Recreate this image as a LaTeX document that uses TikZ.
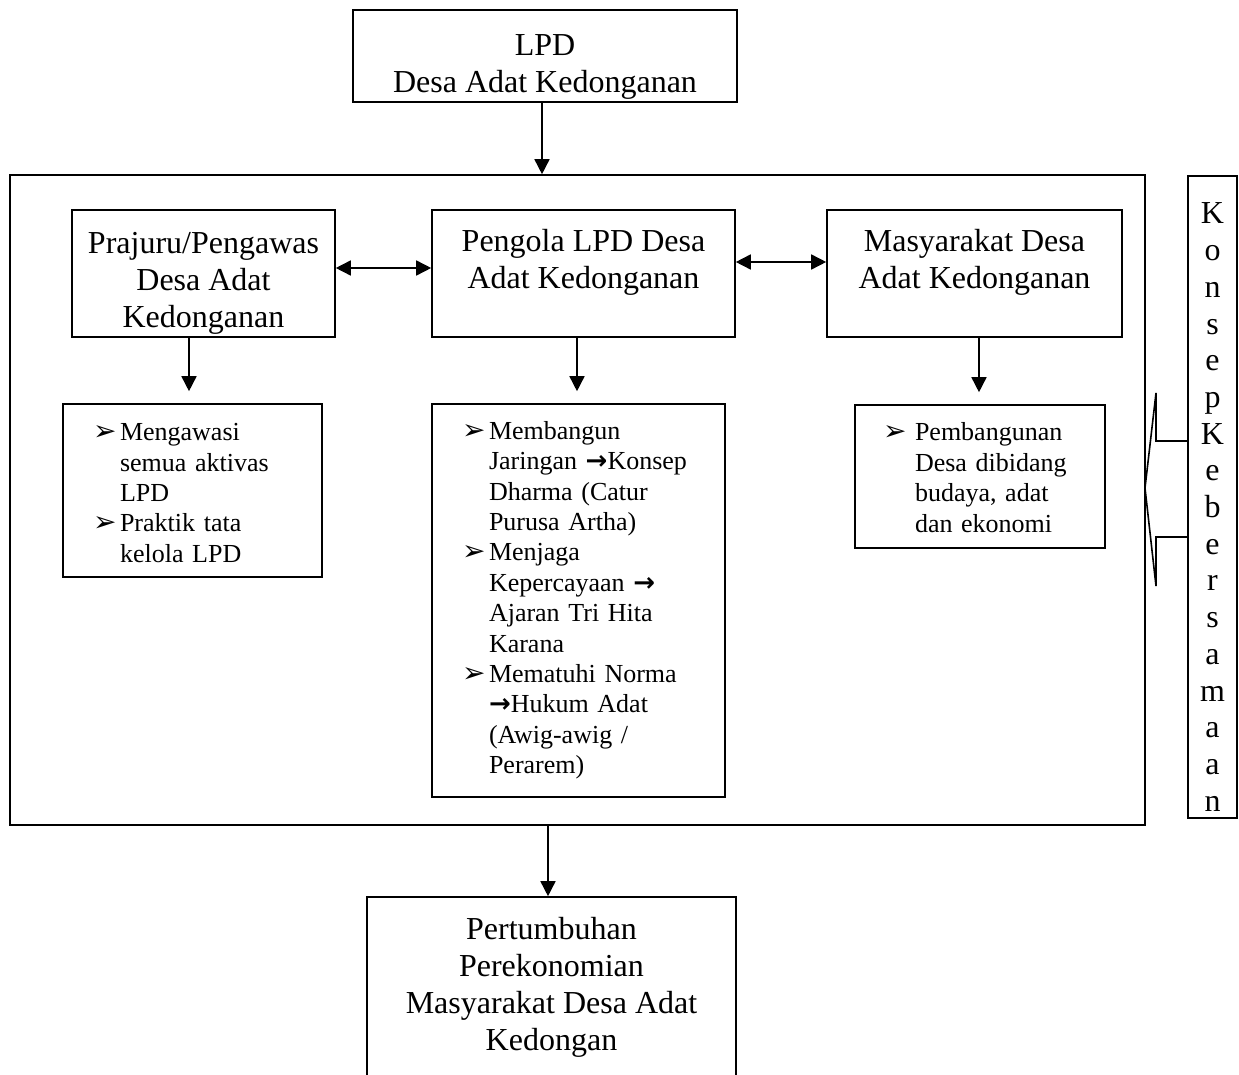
\documentclass[tikz,border=0pt]{standalone}
\usepackage{fontspec}
\setmainfont{Liberation Serif}
\newfontfamily\dejavu{DejaVu Sans}
\usetikzlibrary{arrows.meta}
\newcommand\blt{{\dejavu\fontsize{14}{14}\selectfont ➢}}
\newcommand\ra{{\dejavu\bfseries\fontsize{13}{13}\selectfont →}}
\newcommand\atas[1]{\rule{0pt}{#1}}
\tikzset{
	kotak/.style={draw,line width=.8pt,align=center,inner sep=0pt,font=\fontsize{16}{18.5}\selectfont},
	daftar/.style={draw,line width=.8pt,align=left,inner ysep=0pt,inner xsep=15pt,font=\fontsize{13}{15.2}\selectfont},
	panah/.style={line width=.8pt,-{Triangle[length=7.5pt,width=7.5pt]}},
	panahdua/.style={line width=.8pt,{Triangle[length=7.5pt,width=7.5pt]}-{Triangle[length=7.5pt,width=7.5pt]}}
}
\begin{document}
\begin{tikzpicture}[x=.5pt,y=-.5pt]
	\useasboundingbox[fill=white] (0,0) rectangle (1239,1075);
	\node[kotak,minimum width=192pt,minimum height=46pt] (lpd) at (545,56) {\atas{21.5pt}LPD\\Desa Adat Kedonganan};
	\node[draw,line width=.8pt,minimum width=567.5pt,minimum height=325pt] (outer) at (577.5,500) {};
	\node[kotak,minimum width=131.5pt,minimum height=63.5pt] (prajuru) at (203.5,273.5) {\atas{20pt}Prajuru/Pengawas\\Desa Adat\\Kedonganan};
	\node[kotak,minimum width=151.5pt,minimum height=63.5pt] (pengola) at (583.5,273.5) {\atas{15pt}Pengola LPD Desa\\Adat Kedonganan\\\mbox{}};
	\node[kotak,minimum width=147.5pt,minimum height=63.5pt] (masy) at (974.5,273.5) {\atas{15pt}Masyarakat Desa\\Adat Kedonganan\\\mbox{}};
	% daftar kegiatan
	\node[daftar,text width=99.5pt,minimum height=86.5pt] (tugas1) at (192.5,490.5) {\begin{tabular}{@{}p{13.5pt}@{}l@{}}
		\blt & \atas{15.6pt}Mengawasi\\ & semua aktivas\\ & LPD\\
		\blt & Praktik tata\\ & kelola LPD
	\end{tabular}};
	\node[daftar,text width=116.5pt,minimum height=196.5pt] (tugas2) at (578.5,600.5) {\begin{tabular}{@{}p{13.5pt}@{}l@{}}
		\blt & Membangun\\ & Jaringan \ra Konsep\\ & Dharma (Catur\\ & Purusa Artha)\\
		\blt & Menjaga\\ & Kepercayaan \ra\\ & Ajaran Tri Hita\\ & Karana\\
		\blt & Mematuhi Norma\\ & \ra Hukum Adat\\ & (Awig-awig /\\ & Perarem)
	\end{tabular}};
	\node[daftar,inner xsep=14pt,text width=97pt,minimum height=71.5pt] (tugas3) at (980,476.5) {\begin{tabular}{@{}p{16pt}@{}l@{}}
		\blt & \atas{14.6pt}Pembangunan\\ & Desa dibidang\\ & budaya, adat\\ & dan ekonomi
	\end{tabular}};
	\node[kotak,minimum width=184.5pt,minimum height=101.5pt] (hasil) at (551.5,998.5) {\atas{15pt}Pertumbuhan\\Perekonomian\\Masyarakat Desa Adat\\Kedongan\\\mbox{}};
	\node[kotak,font=\fontsize{16}{18.35}\selectfont,minimum width=24.5pt,minimum height=321pt] (konsep) at (1212.5,497) {\atas{20.5pt}K\\o\\n\\s\\e\\p\\K\\e\\b\\e\\r\\s\\a\\m\\a\\a\\n};
	% panah
	\draw[panah] (lpd.south -| 542,0) -- (outer.north -| 542,0);
	\draw[panahdua] ([yshift=2.75pt]prajuru.east) -- ([yshift=2.75pt]pengola.west);
	\draw[panahdua] ([yshift=5.75pt]pengola.east) -- ([yshift=5.75pt]masy.west);
	\foreach \a/\b/\x in {prajuru/tugas1/189,pengola/tugas2/577,masy/tugas3/979}
		\draw[panah,shorten >=6pt] (\a.south -| \x,0) -- (\b.north -| \x,0);
	\draw[panah] (outer.south -| 548,0) -- (hasil.north -| 548,0);
	\draw[line width=.8pt,line join=miter] (konsep.west |- 0,441) -- (1156,441) -- (1156,393) -- (1145,488) -- (1156,586) -- (1156,537) -- (konsep.west |- 0,537);
\end{tikzpicture}
\end{document}
